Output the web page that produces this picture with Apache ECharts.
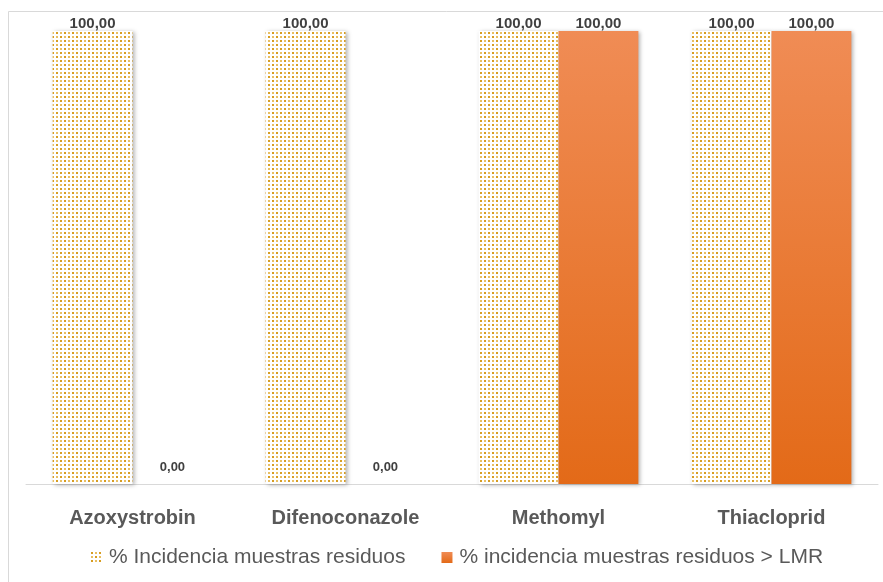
<!DOCTYPE html>
<html>
<head>
<meta charset="utf-8">
<script src="https://cdn.jsdelivr.net/npm/echarts@6/dist/echarts.min.js"></script>
<style>
  html, body { margin: 0; padding: 0; background: #fff; }
  #chart { width: 883px; height: 582px; }
</style>
</head>
<body>
<div id="chart"></div>
<script>
// Pesticide residue incidence by active substance
const categories = ['Azoxystrobin', 'Difenoconazole', 'Methomyl', 'Thiacloprid'];
const incidenceResidues = [100, 100, 100, 100];
const incidenceAboveLMR = [0, 0, 100, 100];
const seriesNames = ['% Incidencia muestras residuos', '% incidencia muestras residuos > LMR'];

// Dotted fill used for the first series
function dotPattern() {
  const c = document.createElement('canvas');
  c.width = 8; c.height = 8;
  const ctx = c.getContext('2d');
  ctx.fillStyle = '#ffffff';
  ctx.fillRect(0, 0, 8, 8);
  ctx.fillStyle = '#d79d22';
  ctx.fillRect(0, 0, 2, 2);
  ctx.fillRect(4, 4, 2, 2);
  ctx.fillStyle = '#e9bf62';
  ctx.fillRect(4, 0, 2, 2);
  ctx.fillRect(0, 4, 2, 2);
  return c;
}

const fmt = v => v.toFixed(2).replace('.', ',');
const textColor = '#595959';
const font = '"Liberation Sans", Arial, sans-serif';

const chart = echarts.init(document.getElementById('chart'), null, { renderer: 'canvas' });
chart.setOption({
  animation: false,
  backgroundColor: '#ffffff',
  textStyle: { fontFamily: font },
  graphic: [{
    type: 'rect',
    shape: { x: 8.5, y: 11.5, width: 890, height: 600 },
    style: { fill: 'none', stroke: '#d9d9d9', lineWidth: 1 },
    silent: true,
    z: -10
  }],
  grid: { left: 26, right: 5, top: 31, bottom: 98 },
  legend: {
    bottom: 9,
    left: 86,
    itemWidth: 11,
    itemHeight: 11,
    itemGap: 36,
    icon: 'rect',
    textStyle: { color: textColor, fontSize: 21, fontFamily: font, padding: [0, 0, 0, 2] },
    data: seriesNames
  },
  xAxis: {
    type: 'category',
    data: categories,
    axisLine: { lineStyle: { color: '#d9d9d9', width: 1 } },
    axisTick: { show: false },
    axisLabel: { color: textColor, fontSize: 20, fontWeight: 'bold', margin: 24, fontFamily: font }
  },
  yAxis: {
    type: 'value',
    min: 0,
    max: 100,
    show: false,
    splitLine: { show: false }
  },
  series: [
    {
      name: seriesNames[0],
      type: 'bar',
      data: incidenceResidues,
      barGap: '0%',
      barCategoryGap: '25%',
      itemStyle: {
        color: { image: dotPattern(), repeat: 'repeat' },
        shadowColor: 'rgba(0,0,0,0.3)',
        shadowBlur: 4,
        shadowOffsetX: 2,
        shadowOffsetY: 1
      },
      label: {
        show: true,
        position: 'top',
        distance: 0,
        color: '#404040',
        fontSize: 15,
        fontWeight: 'bold',
        formatter: p => fmt(p.value)
      }
    },
    {
      name: seriesNames[1],
      type: 'bar',
      data: incidenceAboveLMR.map(v => v === 0
        ? { value: v, label: { fontSize: 13, distance: 10 } }
        : v),
      itemStyle: {
        color: new echarts.graphic.LinearGradient(0, 0, 0, 1, [
          { offset: 0, color: '#f08c55' },
          { offset: 1, color: '#e36a18' }
        ]),
        shadowColor: 'rgba(0,0,0,0.3)',
        shadowBlur: 4,
        shadowOffsetX: 2,
        shadowOffsetY: 1
      },
      label: {
        show: true,
        position: 'top',
        distance: 0,
        color: '#404040',
        fontWeight: 'bold',
        fontSize: 15,
        formatter: p => fmt(p.value)
      }
    }
  ]
});
</script>
</body>
</html>
